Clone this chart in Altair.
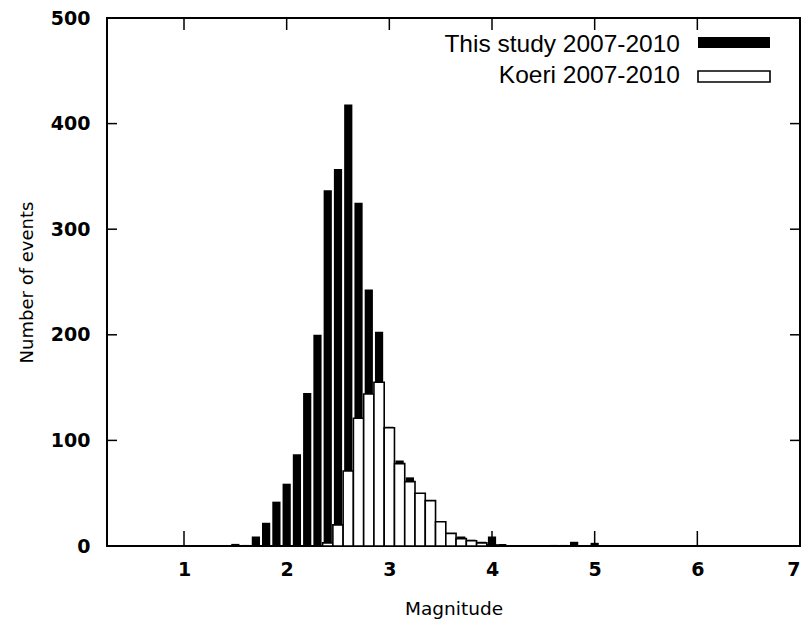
import altair as alt
import pandas as pd

# ---- data ----
mags = [1.5, 1.6, 1.7, 1.8, 1.9, 2.0, 2.1, 2.2, 2.3, 2.4, 2.5, 2.6, 2.7, 2.8, 2.9,
        3.0, 3.1, 3.2, 3.3, 3.4, 3.5, 3.6, 3.7, 3.8, 3.9, 4.0, 4.1, 4.2, 4.3,
        4.6, 4.7, 4.8, 5.0]
this_study = [2, 1, 9, 22, 42, 59, 87, 145, 200, 337, 357, 418, 325, 243, 203,
              113, 81, 65, 50, 43, 23, 12, 9, 6, 4, 9, 2, 1, 1,
              1, 1, 4, 3]

koeri_mags = [2.4, 2.5, 2.6, 2.7, 2.8, 2.9, 3.0, 3.1, 3.2, 3.3, 3.4, 3.5, 3.6,
              3.7, 3.8, 3.9, 4.0]
koeri = [3, 20, 71, 121, 144, 155, 112, 78, 61, 50, 43, 23, 12, 7, 5, 3, 1]

x_ticks = [1, 2, 3, 4, 5, 6, 7]
y_ticks = [0, 100, 200, 300, 400, 500]

labels = ["This study 2007-2010", "Koeri 2007-2010"]

W, H = 693, 528

df_black = pd.DataFrame({"mag": mags, "n": this_study})
df_white = pd.DataFrame({"mag": koeri_mags, "n": koeri})
df_xt = pd.DataFrame({"t": x_ticks})
df_yt = pd.DataFrame({"t": y_ticks})
one = pd.DataFrame({"a": [0]})

xscale = alt.Scale(domain=[0.25, 7], nice=False, zero=False)
yscale = alt.Scale(domain=[0, 500], nice=False)

xaxis = alt.Axis(values=x_ticks, format="d", title="Magnitude", labelFont="DejaVu Sans",
                 labelFontWeight="bold", labelFontSize=19, labelPadding=14,
                 titleFont="DejaVu Sans", titleFontWeight="normal", titleFontSize=18.5,
                 titleY=68, titleBaseline="alphabetic",
                 ticks=False, domain=False, grid=False, labelColor="black",
                 titleColor="black")
yaxis = alt.Axis(values=y_ticks, format="d", title="Number of events", labelFont="DejaVu Sans",
                 labelFontWeight="bold", labelFontSize=19, labelPadding=17,
                 titleFont="DejaVu Sans", titleFontWeight="normal", titleFontSize=18,
                 titleX=-75, titleY=H / 2, titleAngle=-90, titleAlign="center",
                 titleBaseline="alphabetic",
                 ticks=False, domain=False, grid=False, labelColor="black",
                 titleColor="black")

tick_style = dict(color="black", strokeWidth=1.5)

bottom_ticks = alt.Chart(df_xt).mark_rule(**tick_style).encode(
    x=alt.X("t:Q", scale=xscale, axis=xaxis), y=alt.value(H), y2=alt.value(H - 15))
top_ticks = alt.Chart(df_xt).mark_rule(**tick_style).encode(
    x=alt.X("t:Q", scale=xscale), y=alt.value(0), y2=alt.value(12))
left_ticks = alt.Chart(df_yt).mark_rule(**tick_style).encode(
    y=alt.Y("t:Q", scale=yscale, axis=yaxis), x=alt.value(0), x2=alt.value(10))
right_ticks = alt.Chart(df_yt).mark_rule(**tick_style).encode(
    y=alt.Y("t:Q", scale=yscale), x=alt.value(W), x2=alt.value(W - 10))

black = alt.Chart(df_black).transform_calculate(
    lo="datum.mag - 0.04", hi="datum.mag + 0.04"
).mark_rect(color="black").encode(
    x=alt.X("lo:Q", scale=xscale, axis=xaxis), x2="hi:Q",
    y=alt.Y("n:Q", scale=yscale, axis=yaxis), y2=alt.datum(0))

white = alt.Chart(df_white).transform_calculate(
    lo="datum.mag - 0.05", hi="datum.mag + 0.05"
).mark_rect(fill="white", stroke="black", strokeWidth=1.6).encode(
    x=alt.X("lo:Q", scale=xscale), x2="hi:Q",
    y=alt.Y("n:Q", scale=yscale), y2=alt.datum(0))

# legend (drawn manually, gnuplot style: text left of sample box)
leg_font = dict(font="Liberation Sans", fontSize=24.5, align="right",
                baseline="alphabetic", color="black")
leg_t1 = alt.Chart(one).mark_text(**leg_font).encode(
    x=alt.value(573), y=alt.value(34), text=alt.value(labels[0]))
leg_t2 = alt.Chart(one).mark_text(**leg_font).encode(
    x=alt.value(573), y=alt.value(65), text=alt.value(labels[1]))
leg_r1 = alt.Chart(one).mark_rect(color="black").encode(
    x=alt.value(591), x2=alt.value(663), y=alt.value(19), y2=alt.value(30))
leg_r2 = alt.Chart(one).mark_rect(fill="white", stroke="black", strokeWidth=1.6).encode(
    x=alt.value(591), x2=alt.value(663), y=alt.value(53), y2=alt.value(64))

chart = alt.layer(
    bottom_ticks, top_ticks, left_ticks, right_ticks, black, white,
    leg_t1, leg_t2, leg_r1, leg_r2
).properties(
    width=W, height=H,
    padding={"left": 107, "top": 18, "right": 3, "bottom": 76},
    autosize=alt.AutoSizeParams(type="none"),
    background="white",
).configure_view(stroke="black", strokeWidth=2)

chart.save("out.html", embed_options={"renderer": "svg", "actions": False})
